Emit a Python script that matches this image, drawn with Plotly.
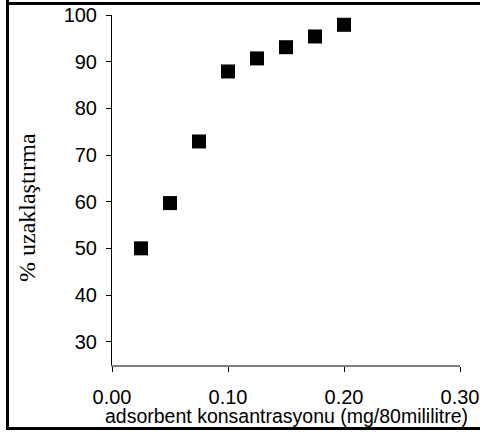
import plotly.graph_objects as go

# Data
concentration = [0.025, 0.05, 0.075, 0.10, 0.125, 0.15, 0.175, 0.20]
removal = [50.0, 59.7, 72.9, 87.9, 90.7, 93.1, 95.4, 97.9]
x_ticks = [0.0, 0.1, 0.2, 0.3]
x_tick_labels = ["0.00", "0.10", "0.20", "0.30"]
y_ticks = [30, 40, 50, 60, 70, 80, 90, 100]
x_title = "adsorbent konsantrasyonu (mg/80mililitre)"
y_title = "% uzaklaştırma"

W, H = 480, 432
L, R, T, B = 112, 20, 15, 67
pw, ph = W - L - R, H - T - B

def px_x(p):
    return (p - L) / pw

def px_y(p):
    return (H - B - p) / ph

sans = "Liberation Sans, Arial, sans-serif"
serif = "Liberation Serif, Times New Roman, serif"

fig = go.Figure()
fig.add_trace(go.Scatter(
    x=concentration, y=removal, mode="markers",
    marker=dict(symbol="square", size=14, color="black"),
    showlegend=False, hoverinfo="skip",
))

fig.update_layout(
    width=W, height=H,
    margin=dict(l=L, r=R, t=T, b=B, autoexpand=False),
    paper_bgcolor="white", plot_bgcolor="white",
    font=dict(family=sans, color="black", size=20),
    xaxis=dict(
        range=[0, 0.3], tickvals=x_ticks, ticktext=x_tick_labels,
        showgrid=False, zeroline=False,
        showline=True, linecolor="#808080", linewidth=2,
        ticks="outside", ticklen=5, tickcolor="black", tickwidth=1,
        tickfont=dict(family=sans, size=20, color="black"),
        ticklabelstandoff=8,
    ),
    yaxis=dict(
        range=[25, 100], tickvals=y_ticks,
        showgrid=False, zeroline=False,
        showline=True, linecolor="black", linewidth=1,
        ticks="outside", ticklen=5, tickcolor="black", tickwidth=1,
        tickfont=dict(family=sans, size=20, color="black"),
        ticklabelstandoff=5,
    ),
    annotations=[
        dict(text=x_title, xref="paper", yref="paper",
             x=px_x(286), y=px_y(416), xanchor="center", yanchor="middle",
             showarrow=False, font=dict(family=sans, size=19.5, color="black")),
        dict(text=y_title, xref="paper", yref="paper",
             x=px_x(27), y=px_y(208), xanchor="center", yanchor="middle",
             textangle=-90,
             showarrow=False, font=dict(family=serif, size=24, color="black")),
    ],
    shapes=[
        dict(type="line", xref="paper", yref="paper",
             x0=px_x(7.5), x1=px_x(7.5), y0=px_y(0), y1=px_y(429),
             line=dict(color="black", width=3)),
        dict(type="line", xref="paper", yref="paper",
             x0=px_x(6), x1=px_x(500), y0=px_y(428.5), y1=px_y(428.5),
             line=dict(color="black", width=3)),
        dict(type="line", xref="paper", yref="paper",
             x0=px_x(6), x1=px_x(500), y0=px_y(3.5), y1=px_y(3.5),
             line=dict(color="black", width=3)),
    ],
)

fig.write_html(
    "out.html",
    config={"displayModeBar": False},
    post_script="document.body.style.margin='0';document.body.style.overflow='hidden';window.scrollTo(0,0);",
)
